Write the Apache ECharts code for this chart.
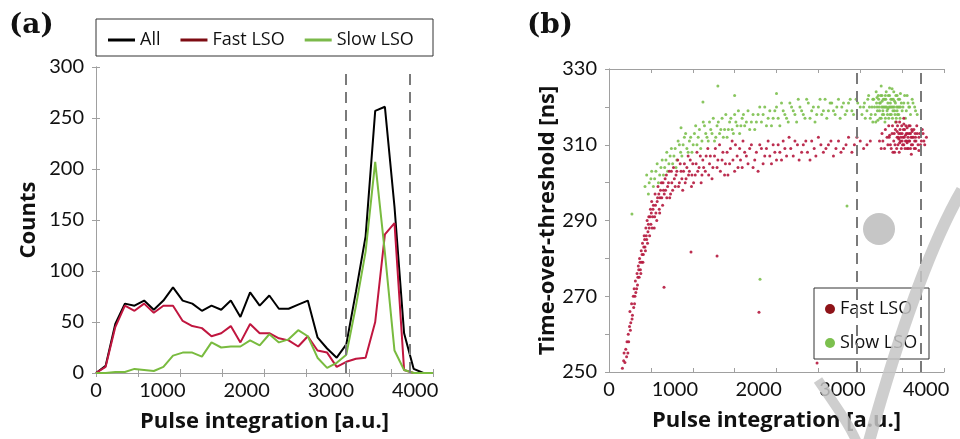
<!DOCTYPE html>
<html>
<head>
<meta charset="utf-8">
<script src="https://cdn.jsdelivr.net/npm/echarts@6/dist/echarts.min.js"></script>
<style>
  html, body { margin: 0; background: #fff; }
  #main { width: 960px; height: 439px; }
</style>
</head>
<body>
<div id="main"></div>
<script>
// (a) histogram bins
var binCenters = [0, 114, 229, 343, 457, 571, 686, 800, 914, 1029, 1143, 1257, 1371, 1486, 1600, 1714, 1829, 1943,
    2057, 2171, 2286, 2400, 2514, 2629, 2743, 2857, 2971, 3086, 3200, 3314, 3429, 3543, 3657, 3771, 3886, 4000];
var allCounts = [0, 7, 48, 68, 66, 71, 62, 71, 84, 71, 68, 61, 66, 62, 71, 55, 79, 66,
    76, 63, 63, 67, 71, 35, 24, 15, 28, 80, 134, 257, 261, 163, 39, 4, 0, 0];
var fastCounts = [0, 6, 45, 66, 61, 68, 59, 66, 66, 51, 46, 44, 36, 39, 46, 30, 48, 39,
    39, 34, 32, 26, 36, 22, 20, 6, 11, 14, 15, 50, 136, 147, 3, 0, 0, 0];
var slowCounts = [0, 0, 1, 1, 4, 3, 2, 6, 17, 20, 20, 16, 30, 25, 26, 26, 32, 27,
    38, 30, 33, 42, 36, 15, 5, 10, 18, 66, 119, 207, 118, 22, 3, 0, 0, 0];
var cutLines = [2960, 3720];

// (b) pulse integration vs time-over-threshold
var fastPoints = [
    [160,251],[175,253],[190,252.5],[200,256],[215,258],[225,255],[230,260],[245,262],[250,266],[260,263],
    [270,268],[280,265],[290,270],[300,272],[305,268],[315,274],[320,271],[335,276],[340,273],[350,278],
    [360,275],[365,280],[375,277],[385,282],[390,279],[400,284],[410,281],[420,286],[430,283],[440,288],
    [450,285],[455,290],[465,287],[475,291],[480,288],[495,293],[500,289],[510,295],[520,291],[530,294],
    [540,288],[550,297],[560,292],[575,295],[585,299],[600,293],[610,296],[625,300],[640,294],[650,298],
    [670,301],[690,296],[700,299],[720,303],[735,297],[750,300],[770,304],[790,299],[800,302],[820,306],
    [840,300],[860,303],[880,298],[900,305],[920,301],[945,307],[960,303],[985,299],[1000,305],[1030,302],
    [1050,308],[1075,304],[1100,300],[1120,306],[1150,303],[1180,309],[1200,305],[1230,301],[1260,307],[1290,304],
    [1320,310],[1350,306],[1380,302],[1410,308],[1440,305],[1470,311],[1500,303],[1530,307],[1560,309],[1590,304],
    [1620,308],[1660,305],[1700,310],[1740,306],[1780,303],[1820,309],[1860,307],[1900,311],[1940,305],[1980,308],
    [2020,310],[2060,306],[2100,309],[2150,312],[2200,307],[2250,310],[2300,308],[2350,311],[2400,306],[2450,309],
    [2500,312],[2560,308],[2620,310],[2680,307],[2740,311],[2800,309],[2860,312],[2930,310],[3000,311],[3080,310],
    [180,255],[210,254],[235,258],[255,261],[275,264],[295,267],[310,270],[330,272],[345,275],[355,277],
    [370,279],[380,276],[395,281],[405,279],[415,283],[425,285],[435,282],[445,286],[460,284],[470,289],
    [485,286],[490,291],[505,292],[515,288],[525,293],[545,291],[555,294],[570,290],[580,296],[595,297],
    [605,292],[615,298],[630,296],[645,300],[660,297],[675,298],[685,302],[710,300],[725,296],[745,303],
    [760,298],[780,301],[810,303],[830,299],[850,305],[870,301],[890,303],[910,300],[930,304],[950,302],
    [970,306],[990,302],[1010,300],[1040,305],[1060,303],[1090,307],[1110,302],[1130,304],[1160,307],[1190,302],
    [1210,307],[1240,304],[1270,309],[1300,306],[1330,303],[1360,308],[1390,305],[1420,302],[1450,309],[1480,306],
    [1510,310],[1540,304],[1570,306],[1600,311],[1640,307],[1680,309],[1720,304],[1760,308],[1800,310],[1840,305],
    [1880,309],[1920,307],[1960,310],[2000,306],[2040,308],[2080,311],[2120,307],[2170,309],[2220,311],[2270,306],
    [2320,310],[2370,308],[2420,311],[2470,307],[2530,310],[2590,309],[2650,311],[2710,309],[2770,308],[2830,310],
    [2900,308],[2960,312],[3040,309],[3120,311],
    // cluster
    [3230,311],[3260,313],[3290,309],[3320,312],[3340,315],[3360,310],[3380,313],[3400,311],[3410,308],[3420,314],
    [3440,312],[3450,310],[3460,313],[3470,316],[3480,311],[3490,309],[3500,313],[3510,312],[3520,310],[3530,314],
    [3540,311],[3550,313],[3560,309],[3570,312],[3580,315],[3590,311],[3600,313],[3610,310],[3620,312],[3640,314],
    [3650,311],[3660,309],[3680,313],[3700,312],[3720,310],[3740,314],[3760,311],[3790,312],[3430,316],[3520,317],
    [3390,308],[3610,307.5],[3700,308.5],[3470,310.5],[3560,314.5],[3350,312.5],
    [3250,309],[3270,311],[3300,314],[3330,310],[3345,312],[3370,309],[3385,315],[3405,313],[3415,310],[3435,309],
    [3445,315],[3455,312],[3465,308],[3475,314],[3485,312],[3495,315],[3505,310],[3515,314],[3525,312],[3535,309],
    [3545,315],[3555,311],[3565,313],[3575,309],[3585,313],[3595,315],[3605,312],[3615,314],[3625,310],[3635,312],
    [3645,309],[3655,313],[3665,311],[3675,315],[3690,310],[3710,313],[3730,311],[3750,313],[3770,310],[3500,311],
    [3540,312.5],[3460,311.5],[3580,311],[3620,313.5],[3520,315.5],[3440,313.5],[3600,309],[3660,312],[3480,313],[3560,310.5],
    // outliers
    [979,281.7],[1290,280.6],[657,272.4],[1791,265.8],[2484,252.4]
];
var slowPoints = [
    [430,299],[470,297],[500,301],[530,299],[560,303],[590,300],[620,304],[650,302],[680,306],[700,303],
    [730,307],[760,305],[790,309],[810,306],[840,310],[870,307],[900,312],[930,309],[960,311],[990,308],
    [1020,313],[1050,310],[1080,314],[1110,311],[1140,315],[1170,312],[1200,316],[1230,313],[1260,311],[1290,315],
    [1320,313],[1350,317],[1380,314],[1410,312],[1440,316],[1470,314],[1500,318],[1530,315],[1560,313],[1590,317],
    [1620,315],[1660,319],[1700,316],[1740,314],[1780,318],[1820,316],[1860,320],[1900,317],[1940,315],[1980,319],
    [2020,317],[2060,321],[2100,318],[2140,316],[2180,320],[2220,318],[2260,322],[2300,319],[2340,317],[2380,321],
    [2420,319],[2460,316],[2500,320],[2540,318],[2580,322],[2620,319],[2660,321],[2700,318],[2740,322],[2780,320],
    [2820,318],[2860,321],[2900,319],[2950,322],[3000,320],
    [450,302],[480,300],[510,303],[545,301],[575,305],[605,302],[635,306],[665,304],[690,308],[715,305],
    [745,309],[775,307],[800,304],[825,311],[855,308],[885,310],[915,313],[945,308],[975,312],[1005,310],
    [1035,315],[1065,312],[1095,309],[1125,316],[1155,313],[1185,311],[1215,314],[1245,317],[1275,312],[1305,316],
    [1335,314],[1365,312],[1395,318],[1425,314],[1455,317],[1485,313],[1515,316],[1545,319],[1575,315],[1605,318],
    [1640,316],[1680,314],[1720,318],[1760,316],[1800,320],[1840,318],[1880,315],[1920,319],[1960,317],[2000,320],
    [2040,315],[2080,319],[2120,317],[2160,321],[2200,319],[2240,316],[2280,320],[2320,318],[2360,322],[2400,317],
    [2440,320],[2480,318],[2520,322],[2560,319],[2600,317],[2640,321],[2680,319],[2720,320],[2760,317],[2800,321],
    [2840,319],[2880,322],[2920,318],[2970,321],
    [1300,325.5],[1122,321.3],[1500,323],[860,314.5],[2000,323.5],
    [274,291.7],[1803,274.5],[2842,293.8],
    // cluster
    [3020,318],[3050,321],[3080,319],[3100,323],[3120,317],[3140,320],[3160,322],[3180,318],[3190,324],[3200,320],
    [3210,316.5],[3220,322],[3230,319],[3240,321],[3250,317],[3260,323],[3270,320],[3280,318],[3290,322],[3300,320],
    [3310,324],[3320,319],[3330,321],[3340,317],[3350,323],[3360,320],[3370,318],[3380,322],[3390,320],[3400,324],
    [3410,319],[3420,321],[3430,317],[3440,323],[3450,320],[3460,318],[3470,322],[3480,320],[3500,319],[3520,321],
    [3540,317],[3560,323],[3580,320],[3600,318],[3630,321],[3660,319],[3250,325.5],[3350,325],[3150,316],[3420,316],
    [3300,317],[3200,322.5],[3380,324.8],[3480,323.5],
    [3040,320],[3060,317],[3090,322],[3110,320],[3130,318],[3150,322],[3170,320],[3185,316],[3195,321],[3205,319],
    [3215,323],[3225,320],[3235,317],[3245,323],[3255,320],[3265,318],[3275,322],[3285,320],[3295,316],[3305,322],
    [3315,320],[3325,318],[3335,323],[3345,320],[3355,318],[3365,322],[3375,320],[3385,317],[3395,322],[3405,320],
    [3415,318],[3425,323],[3435,320],[3445,318],[3455,322],[3465,320],[3475,317],[3490,321],[3510,320],[3530,323],
    [3550,319],[3570,321],[3590,320],[3620,322],[3650,320],[3680,318],[3270,319],[3330,319.5],[3360,321],[3410,321.5],
    [3230,321],[3300,323],[3440,319],[3260,321.5],[3390,319]
];

var FONT = 'Lato';
var TITLE_FONT = 'Open Sans';
var AXIS_COLOR = '#a0a0a0';

function pairs(xs, ys) {
    return xs.map(function (x, i) { return [x, ys[i]]; });
}

// labels in the original sit a bit left of their ticks (except 0): trailing spaces push them left
function xLabel(v) {
    if (v % 1000 !== 0) return '';
    return v === 0 ? '0' : v + '       ';
}
var nameStyle = {fontSize: 22, fontWeight: 'bold', fontFamily: TITLE_FONT, color: '#111'};

function xAxisBottom(grid, name) {
    return {
        type: 'value', gridIndex: grid, min: 0, max: 4000, interval: 500,
        axisLine: {show: true, lineStyle: {color: AXIS_COLOR}},
        axisTick: {show: true, inside: true, length: 4, lineStyle: {color: AXIS_COLOR}},
        axisLabel: {formatter: xLabel, fontSize: 20, fontFamily: FONT, color: '#111', margin: 8},
        splitLine: {show: false},
        name: name, nameLocation: 'middle', nameGap: 38,
        nameTextStyle: nameStyle
    };
}
function xAxisTop(grid) {
    return {
        type: 'value', gridIndex: grid, position: 'top', min: 0, max: 4000, interval: 500,
        axisLine: {show: true, lineStyle: {color: AXIS_COLOR}},
        axisTick: {show: true, inside: true, length: 4, lineStyle: {color: AXIS_COLOR}},
        axisLabel: {show: false}, splitLine: {show: false}
    };
}

var dashed = {
    silent: true, symbol: ['none', 'none'], label: {show: false},
    lineStyle: {color: '#7a7a7a', type: [11, 7], width: 2},
    data: cutLines.map(function (v) { return {xAxis: v}; })
};

var option = {
    animation: false,
    backgroundColor: '#fff',
    title: [
        {text: '(a)', left: 9, top: 12, padding: 0,
            textStyle: {fontFamily: 'DejaVu Serif', fontWeight: 'bold', fontSize: 28, color: '#111'}},
        {text: '(b)', left: 527, top: 12, padding: 0,
            textStyle: {fontFamily: 'DejaVu Serif', fontWeight: 'bold', fontSize: 28, color: '#111'}}
    ],
    legend: [{
        left: 103, top: 26, itemGap: 20, icon: 'rect', itemWidth: 27, itemHeight: 3,
        textStyle: {fontSize: 18, fontFamily: TITLE_FONT, color: '#111'},
        data: [
            {name: 'All', itemStyle: {color: '#000'}},
            {name: 'Fast LSO', itemStyle: {color: '#7d0b12'}},
            {name: 'Slow LSO', itemStyle: {color: '#7bb94a'}}
        ]
    }, {
        orient: 'vertical', left: 820, top: 295, itemGap: 16, icon: 'circle', itemWidth: 10, itemHeight: 10,
        textStyle: {fontSize: 18, fontFamily: TITLE_FONT, color: '#111'},
        data: [
            {name: 'Fast LSO', itemStyle: {color: '#8e1318'}},
            {name: 'Slow LSO', itemStyle: {color: '#7cc04e'}}
        ]
    }],
    grid: [
        {left: 96, top: 67, width: 337, height: 306, containLabel: false, outerBoundsMode: 'none'},
        {left: 609, top: 69, width: 335, height: 303, containLabel: false, outerBoundsMode: 'none'}
    ],
    xAxis: [
        xAxisBottom(0, 'Pulse integration [a.u.]'),
        xAxisTop(0),
        xAxisBottom(1, 'Pulse integration [a.u.]'),
        xAxisTop(1)
    ],
    yAxis: [{
        type: 'value', gridIndex: 0, min: 0, max: 300, interval: 50,
        axisLine: {show: true, lineStyle: {color: AXIS_COLOR}},
        axisTick: {show: true, inside: true, length: 4, lineStyle: {color: AXIS_COLOR}},
        axisLabel: {fontSize: 20, fontFamily: FONT, color: '#111', margin: 12},
        splitLine: {show: false},
        name: 'Counts', nameLocation: 'middle', nameGap: 56,
        nameTextStyle: nameStyle
    }, {
        type: 'value', gridIndex: 0, position: 'right', min: 0, max: 300, interval: 50,
        axisLine: {show: true, lineStyle: {color: AXIS_COLOR}},
        axisTick: {show: true, inside: true, length: 4, lineStyle: {color: AXIS_COLOR}},
        axisLabel: {show: false}, splitLine: {show: false}
    }, {
        type: 'value', gridIndex: 1, min: 250, max: 330, interval: 10,
        axisLine: {show: true, lineStyle: {color: AXIS_COLOR}},
        axisTick: {show: true, length: 3, lineStyle: {color: AXIS_COLOR}},
        axisLabel: {
            fontSize: 20, fontFamily: FONT, color: '#111', margin: 12,
            formatter: function (v) { return v % 20 === 10 ? String(v) : ''; }
        },
        splitLine: {show: false},
        name: 'Time-over-threshold [ns]', nameLocation: 'middle', nameGap: 50,
        nameTextStyle: nameStyle
    }, {
        type: 'value', gridIndex: 1, position: 'right', min: 250, max: 330, interval: 10,
        axisLine: {show: true, lineStyle: {color: AXIS_COLOR}},
        axisTick: {show: true, inside: true, length: 4, lineStyle: {color: AXIS_COLOR}},
        axisLabel: {show: false}, splitLine: {show: false}
    }],
    series: [{
        name: 'All', type: 'line', xAxisIndex: 0, yAxisIndex: 0,
        data: pairs(binCenters, allCounts), showSymbol: false,
        lineStyle: {color: '#000', width: 2}, itemStyle: {color: '#000'},
        markLine: dashed
    }, {
        name: 'Fast LSO', type: 'line', xAxisIndex: 0, yAxisIndex: 0,
        data: pairs(binCenters, fastCounts), showSymbol: false,
        lineStyle: {color: '#c0163f', width: 2}, itemStyle: {color: '#c0163f'}
    }, {
        name: 'Slow LSO', type: 'line', xAxisIndex: 0, yAxisIndex: 0,
        data: pairs(binCenters, slowCounts), showSymbol: false,
        lineStyle: {color: '#79bb3f', width: 2}, itemStyle: {color: '#79bb3f'}
    }, {
        name: 'Slow LSO', type: 'scatter', xAxisIndex: 2, yAxisIndex: 2,
        data: slowPoints, symbolSize: 3,
        itemStyle: {color: '#7cc04e', opacity: 0.9}
    }, {
        name: 'Fast LSO', type: 'scatter', xAxisIndex: 2, yAxisIndex: 2,
        data: fastPoints, symbolSize: 3,
        itemStyle: {color: '#b5173d', opacity: 0.9},
        markLine: dashed
    }],
    graphic: [
        // legend frames
        {type: 'rect', shape: {x: 96, y: 19, width: 337, height: 37}, style: {fill: 'none', stroke: '#333', lineWidth: 1}, z: 50},
        {type: 'rect', shape: {x: 814, y: 288, width: 115, height: 71}, style: {fill: 'none', stroke: '#333', lineWidth: 1}, z: 50},
        // grey watermark over the right panel
        {type: 'circle', shape: {cx: 879, cy: 229, r: 16}, style: {fill: '#c6c6c6'}, z: 100},
        {type: 'bezierCurve', shape: {x1: 962, y1: 190, cpx1: 930, cpy1: 245, cpx2: 900, cpy2: 330, x2: 868, y2: 445},
            style: {stroke: '#c6c6c6', lineWidth: 12, fill: 'none', opacity: 0.85}, z: 100},
        {type: 'bezierCurve', shape: {x1: 818, y1: 380, cpx1: 835, cpy1: 405, cpx2: 850, cpy2: 425, x2: 858, y2: 445},
            style: {stroke: '#c6c6c6', lineWidth: 10, fill: 'none', opacity: 0.85}, z: 100}
    ]
};

var chart = echarts.init(document.getElementById('main'));
chart.setOption(option);
</script>
</body>
</html>
